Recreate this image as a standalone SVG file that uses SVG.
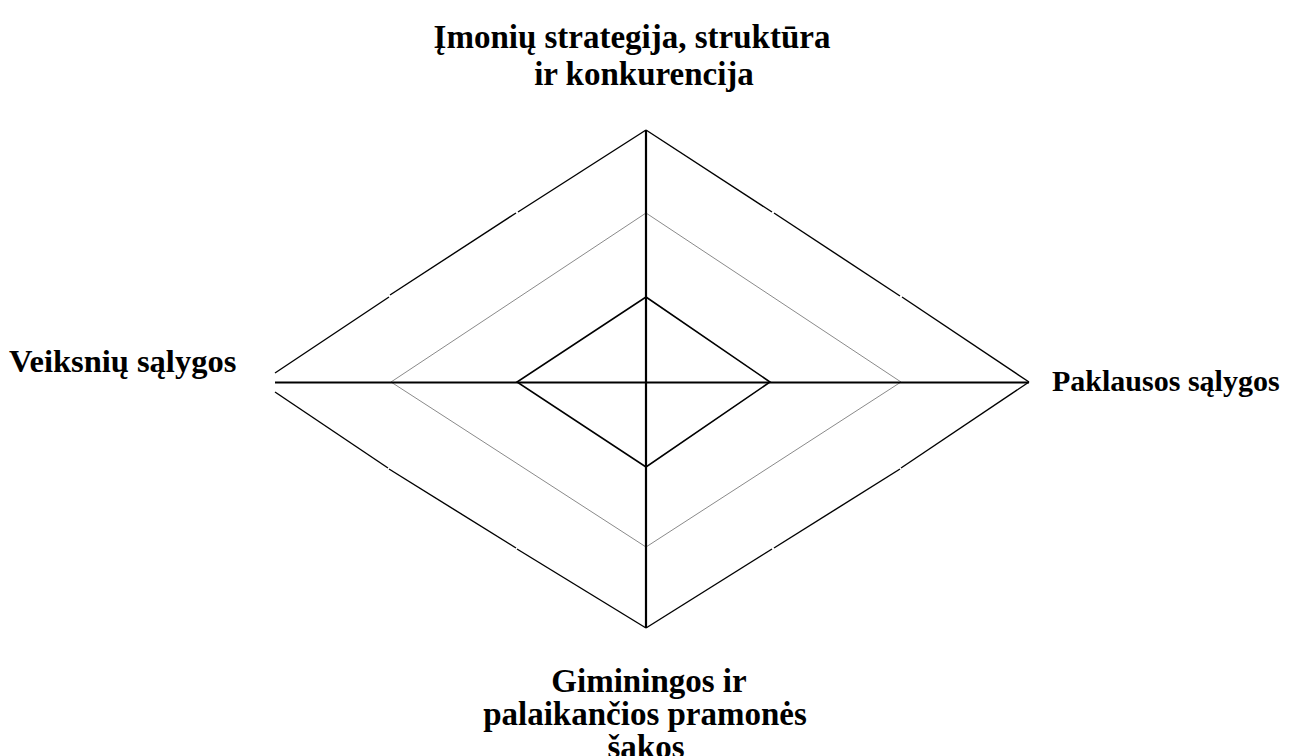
<svg xmlns="http://www.w3.org/2000/svg" width="1297" height="756" viewBox="0 0 1297 756">
<style>
.t{font-family:"Liberation Serif","Times New Roman",serif;font-weight:bold;font-size:33px;fill:#000}
.outer{stroke:#000;stroke-width:1.4;fill:none}
.axis{stroke:#000;stroke-width:2.2;fill:none}
.mid{stroke:#8a8a8a;stroke-width:1;fill:none}
.inner{stroke:#000;stroke-width:1.6;fill:none}
</style>
<rect width="1297" height="756" fill="#fff"/>
<g id="connectors">
<g id="outer-diamond" class="outer">
<line x1="275" y1="373" x2="389" y2="297"/>
<line x1="390" y1="295" x2="516" y2="213"/>
<line x1="518" y1="212" x2="646" y2="130"/>
<line x1="646" y1="130" x2="772" y2="212"/>
<line x1="774" y1="213" x2="900" y2="296"/>
<line x1="902" y1="297" x2="1029" y2="382"/>
<line x1="1029" y1="382" x2="901" y2="468"/>
<line x1="900" y1="469" x2="774" y2="548"/>
<line x1="772" y1="549" x2="646" y2="628"/>
<line x1="646" y1="628" x2="517" y2="549"/>
<line x1="516" y1="548" x2="389" y2="469"/>
<line x1="388" y1="468" x2="275" y2="392"/>
</g>
<polygon id="middle-diamond" class="mid" points="646,213 901,382 646,547 391,382"/>
<polygon id="inner-diamond" class="inner" points="646,297 770,382 646,467 517,382"/>
<line id="h-axis" class="axis" x1="275" y1="382.5" x2="1029" y2="382.5"/>
<line id="v-axis" class="axis" x1="646" y1="130" x2="646" y2="628"/>
</g>
<g id="node-top">
<text class="t" x="632" y="48" text-anchor="middle">Įmonių strategija, struktūra</text>
<text class="t" x="644" y="85" text-anchor="middle">ir konkurencija</text>
</g>
<g id="node-left">
<text class="t" x="9" y="372" style="font-size:32.5px">Veiksnių sąlygos</text>
</g>
<g id="node-right">
<text class="t" x="1052" y="391" style="font-size:30px">Paklausos sąlygos</text>
</g>
<g id="node-bottom">
<text class="t" x="649" y="692" text-anchor="middle">Giminingos ir</text>
<text class="t" x="645" y="725" text-anchor="middle">palaikančios pramonės</text>
<text class="t" x="646" y="758" text-anchor="middle">šakos</text>
</g>
</svg>
